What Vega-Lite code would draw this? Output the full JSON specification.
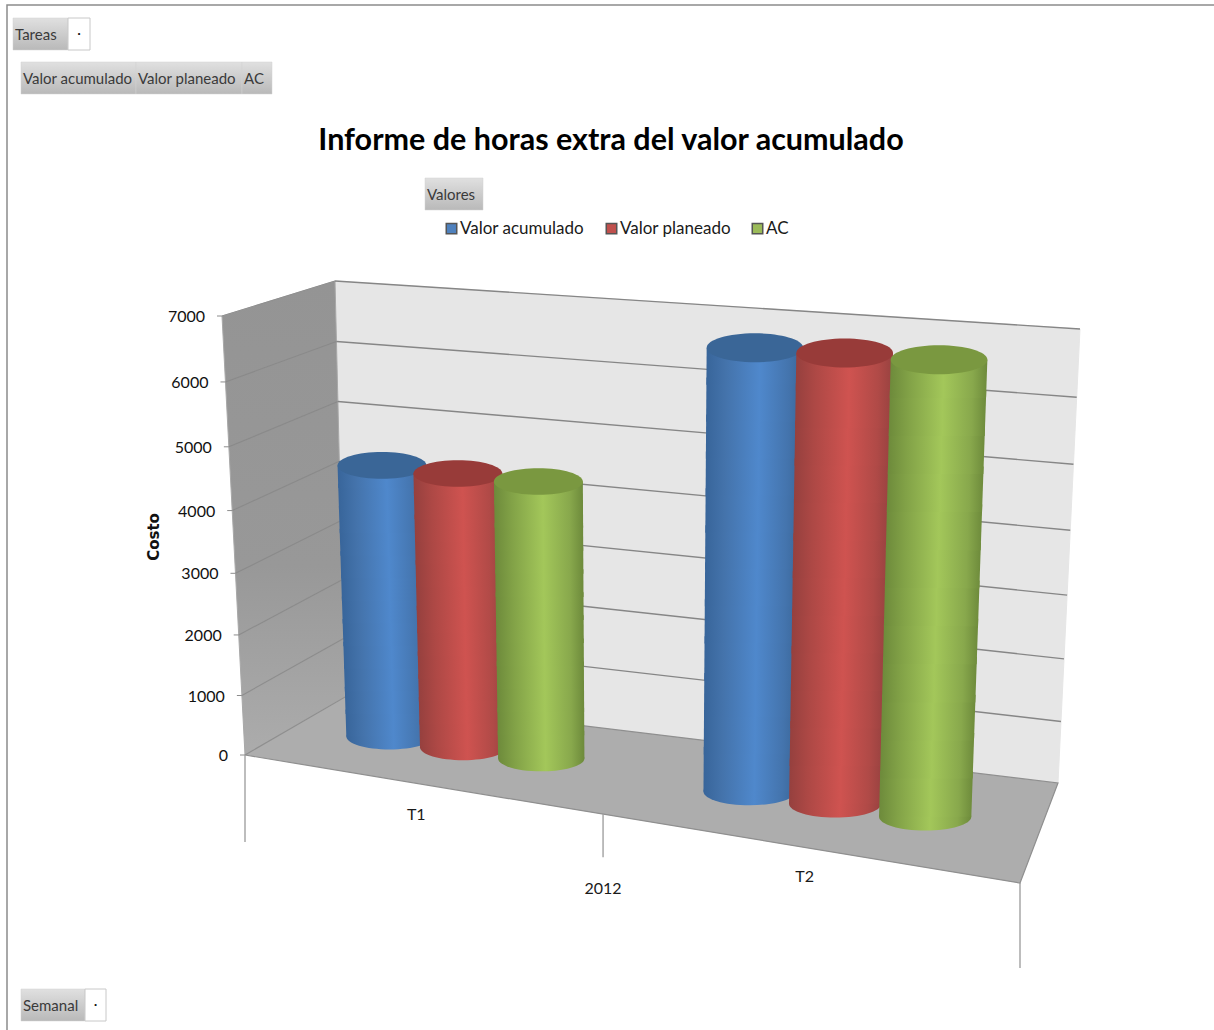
{
  "$schema": "https://vega.github.io/schema/vega-lite/v6.json",
  "width": 1214,
  "height": 1030,
  "padding": 0,
  "autosize": {"type": "none"},
  "background": "white",
  "config": {"view": {"stroke": null}},
  "title": {
    "text": "Informe de horas extra del valor acumulado",
    "anchor": "middle",
    "frame": "group",
    "offset": -156,
    "dx": 4,
    "font": "Lato",
    "fontSize": 30.5,
    "fontWeight": "bold",
    "color": "#000000"
  },
  "datasets": {
    "cilindros": [
      {"periodo": "T1", "serie": "Valor acumulado", "valor": 4470},
      {"periodo": "T1", "serie": "Valor planeado", "valor": 4470},
      {"periodo": "T1", "serie": "AC", "valor": 4480},
      {"periodo": "T2", "serie": "Valor acumulado", "valor": 6880},
      {"periodo": "T2", "serie": "Valor planeado", "valor": 6920},
      {"periodo": "T2", "serie": "AC", "valor": 6940}
    ],
    "caja": [
      {"plano": "fondo", "n": 1, "esquina": "fondo-izq-bajo"},
      {"plano": "fondo", "n": 2, "esquina": "fondo-izq-alto"},
      {"plano": "fondo", "n": 3, "esquina": "fondo-der-alto"},
      {"plano": "fondo", "n": 4, "esquina": "fondo-der-bajo"},
      {"plano": "fondo", "n": 5, "esquina": "fondo-izq-bajo"},
      {"plano": "lateral", "n": 1, "esquina": "frente-izq-bajo"},
      {"plano": "lateral", "n": 2, "esquina": "frente-izq-alto"},
      {"plano": "lateral", "n": 3, "esquina": "fondo-izq-alto"},
      {"plano": "lateral", "n": 4, "esquina": "fondo-izq-bajo"},
      {"plano": "lateral", "n": 5, "esquina": "frente-izq-bajo"},
      {"plano": "suelo", "n": 1, "esquina": "frente-izq-bajo"},
      {"plano": "suelo", "n": 2, "esquina": "fondo-izq-bajo"},
      {"plano": "suelo", "n": 3, "esquina": "fondo-der-bajo"},
      {"plano": "suelo", "n": 4, "esquina": "frente-der-bajo"},
      {"plano": "suelo", "n": 5, "esquina": "frente-izq-bajo"}
    ],
    "marcas_valor": [
      {"valor": 0}, {"valor": 1000}, {"valor": 2000}, {"valor": 3000},
      {"valor": 4000}, {"valor": 5000}, {"valor": 6000}, {"valor": 7000}
    ],
    "categorias": [
      {"etiqueta": "T1"}, {"etiqueta": "2012"}, {"etiqueta": "T2"}
    ],
    "separadores": [
      {"separador": "inicio"}, {"separador": "medio"}, {"separador": "fin"}
    ],
    "botones": [
      {"pieza": "Tareas", "texto": "Tareas"},
      {"pieza": "Valor acumulado", "texto": "Valor acumulado"},
      {"pieza": "Valor planeado", "texto": "Valor planeado"},
      {"pieza": "AC", "texto": "AC"},
      {"pieza": "Valores", "texto": "Valores"},
      {"pieza": "Semanal", "texto": "Semanal"}
    ],
    "listas": [
      {"pieza": "lista Tareas", "texto": "·"},
      {"pieza": "lista Semanal", "texto": "·"}
    ]
  },
  "encoding": {
    "x": {"field": "px", "type": "quantitative", "axis": null, "scale": {"domain": [0, 1214], "range": [0, 1214], "nice": false, "zero": false}},
    "y": {"field": "py", "type": "quantitative", "axis": null, "scale": {"domain": [0, 1030], "range": [0, 1030], "nice": false, "zero": false}}
  },
  "layer": [
    {
      "data": {"name": "caja"},
      "transform": [
        {"calculate": "indexof(datum.esquina,'der')>=0?1:0", "as": "u"},
        {"calculate": "indexof(datum.esquina,'fondo')>=0?1:0", "as": "d"},
        {"calculate": "indexof(datum.esquina,'alto')>=0?1:0", "as": "t"},
        {"calculate": "(1-datum.d)*((1-datum.u)*(245-23*datum.t)+datum.u*(1020+17*datum.t))+datum.d*((1-datum.u)*(345-10*datum.t)+datum.u*(1058+22*datum.t))", "as": "px"},
        {"calculate": "(1-datum.d)*((1-datum.u)*(755-439*datum.t)+datum.u*(883-480*datum.t))+datum.d*((1-datum.u)*(697-416*datum.t)+datum.u*(783-454*datum.t))", "as": "py"}
      ],
      "layer": [
        {
          "transform": [{"filter": "datum.plano==='fondo'"}],
          "mark": {"type": "line", "fill": "#e6e6e6", "stroke": "#e6e6e6", "strokeWidth": 1},
          "encoding": {"order": {"field": "n", "type": "quantitative"}}
        },
        {
          "transform": [{"filter": "datum.plano==='lateral'"}],
          "mark": {"type": "line", "stroke": "#a8a8a8", "strokeWidth": 1, "fill": {"gradient": "linear", "x1": 0, "y1": 0, "x2": 0, "y2": 1, "stops": [{"offset": 0, "color": "#949494"}, {"offset": 0.6, "color": "#989898"}, {"offset": 1, "color": "#acacac"}]}},
          "encoding": {"order": {"field": "n", "type": "quantitative"}}
        }
      ]
    },
    {
      "data": {"name": "marcas_valor"},
      "transform": [
        {"calculate": "datum.valor/7000", "as": "t"},
        {"calculate": "datum.t+0.02*datum.t*(datum.t-1)", "as": "t_izq"},
        {"calculate": "datum.t+0.06*datum.t*(datum.t-1)", "as": "t_der"},
        {"calculate": "345-10*datum.t_izq", "as": "fondo_x"},
        {"calculate": "697-416*datum.t_izq", "as": "fondo_y"},
        {"calculate": "245-23*datum.t_der", "as": "frente_x"},
        {"calculate": "755-439*datum.t_der", "as": "frente_y"}
      ],
      "layer": [
        {
          "transform": [
            {"filter": "datum.valor>0"},
            {"calculate": "datum.fondo_x", "as": "px"},
            {"calculate": "datum.fondo_y", "as": "py"},
            {"calculate": "1058+22*datum.t_der", "as": "px2"},
            {"calculate": "783-454*datum.t_der", "as": "py2"}
          ],
          "mark": {"type": "rule", "stroke": "#868686", "strokeWidth": 1.4},
          "encoding": {"x2": {"field": "px2"}, "y2": {"field": "py2"}}
        },
        {
          "transform": [
            {"filter": "datum.valor>0"},
            {"calculate": "datum.frente_x", "as": "px"},
            {"calculate": "datum.frente_y", "as": "py"},
            {"calculate": "datum.fondo_x", "as": "px2"},
            {"calculate": "datum.fondo_y", "as": "py2"}
          ],
          "mark": {"type": "rule", "stroke": "#858585", "strokeWidth": 1.1, "opacity": 0.75},
          "encoding": {"x2": {"field": "px2"}, "y2": {"field": "py2"}}
        },
        {
          "transform": [
            {"calculate": "datum.frente_x-5", "as": "px"},
            {"calculate": "datum.frente_y", "as": "py"},
            {"calculate": "datum.frente_x", "as": "px2"},
            {"calculate": "datum.frente_y", "as": "py2"}
          ],
          "mark": {"type": "rule", "stroke": "#8c8c8c", "strokeWidth": 1},
          "encoding": {"x2": {"field": "px2"}, "y2": {"field": "py2"}}
        },
        {
          "transform": [
            {"calculate": "datum.frente_x-17", "as": "px"},
            {"calculate": "datum.frente_y+1", "as": "py"}
          ],
          "mark": {"type": "text", "align": "right", "baseline": "middle", "font": "Lato", "fontSize": 16, "color": "#111111"},
          "encoding": {"text": {"field": "valor", "type": "nominal"}}
        }
      ]
    },
    {
      "data": {"name": "caja"},
      "transform": [
        {"filter": "datum.plano==='suelo'"},
        {"calculate": "indexof(datum.esquina,'der')>=0?1:0", "as": "u"},
        {"calculate": "indexof(datum.esquina,'fondo')>=0?1:0", "as": "d"},
        {"calculate": "(1-datum.d)*((1-datum.u)*245+datum.u*1020)+datum.d*((1-datum.u)*345+datum.u*1058)", "as": "px"},
        {"calculate": "(1-datum.d)*((1-datum.u)*755+datum.u*883)+datum.d*((1-datum.u)*697+datum.u*783)", "as": "py"}
      ],
      "mark": {"type": "line", "fill": "#adadad", "stroke": "#8f8f8f", "strokeWidth": 1.2},
      "encoding": {"order": {"field": "n", "type": "quantitative"}}
    },
    {
      "data": {"name": "separadores"},
      "transform": [
        {"calculate": "({inicio:0,medio:0.462,fin:1})[datum.separador]", "as": "u"},
        {"calculate": "({inicio:87,medio:43,fin:85})[datum.separador]", "as": "largo"},
        {"calculate": "245+775*datum.u", "as": "px"},
        {"calculate": "755+128*datum.u", "as": "py"},
        {"calculate": "datum.py+datum.largo", "as": "py2"}
      ],
      "mark": {"type": "rule", "stroke": "#9a9a9a", "strokeWidth": 1.3},
      "encoding": {"y2": {"field": "py2"}}
    },
    {
      "data": {"name": "categorias"},
      "transform": [
        {"calculate": "({T1:0.221,'2012':0.462,T2:0.722})[datum.etiqueta]", "as": "u"},
        {"calculate": "({T1:32,'2012':75,T2:30})[datum.etiqueta]", "as": "caida"},
        {"calculate": "245+775*datum.u", "as": "px"},
        {"calculate": "755+128*datum.u+datum.caida", "as": "py"}
      ],
      "mark": {"type": "text", "align": "center", "baseline": "middle", "font": "Lato", "fontSize": 16, "color": "#1a1a1a"},
      "encoding": {"text": {"field": "etiqueta", "type": "nominal"}}
    },
    {
      "data": {"name": "cilindros"},
      "transform": [
        {"calculate": "({'T1|Valor acumulado':0.127,'T1|Valor planeado':0.226,'T1|AC':0.331,'T2|Valor acumulado':0.611,'T2|Valor planeado':0.726,'T2|AC':0.847})[datum.periodo+'|'+datum.serie]", "as": "u"},
        {"calculate": "({T1:0.058,T2:0.062})[datum.periodo]", "as": "r"},
        {"calculate": "datum.periodo==='T1'?-3:0", "as": "ajuste"},
        {"calculate": "datum.valor/7000", "as": "v"},
        {"calculate": "datum.v+0.05*datum.v*(datum.v-1)", "as": "t"},
        {"calculate": "295+744*datum.u+datum.t*(-16.5+36*datum.u)", "as": "px"},
        {"calculate": "726+datum.ajuste+107*datum.u-datum.t*(427.5+39.5*datum.u)", "as": "py"},
        {"calculate": "295+744*datum.u", "as": "base_x"},
        {"calculate": "726+datum.ajuste+107*datum.u", "as": "base_y"},
        {"calculate": "pow(2*datum.r*(744+36*datum.t),2)", "as": "area_tapa"},
        {"calculate": "pow(2*datum.r*744,2)", "as": "area_base"}
      ],
      "layer": [
        {
          "mark": {"type": "point", "filled": true, "opacity": 0, "size": 4},
          "encoding": {
            "color": {
              "field": "serie",
              "type": "nominal",
              "sort": null,
              "scale": {"domain": ["Valor acumulado", "Valor planeado", "AC"], "range": ["#4f81bd", "#c0504d", "#9bbb59"]},
              "legend": {
                "orient": "none",
                "legendX": 443,
                "legendY": 220,
                "direction": "horizontal",
                "title": null,
                "symbolType": "square",
                "symbolSize": 110,
                "symbolOpacity": 1,
                "symbolStrokeColor": "#555555",
                "labelFont": "Lato",
                "labelFontSize": 17,
                "labelColor": "#1a1a1a",
                "labelOpacity": 1,
                "labelOffset": 0,
                "columnPadding": 18
              }
            }
          }
        },
        {
          "transform": [{"filter": "datum.serie==='Valor acumulado'"}],
          "layer": [
            {
              "transform": [{"calculate": "datum.base_x", "as": "px"}, {"calculate": "datum.base_y", "as": "py"}],
              "mark": {"type": "point", "filled": true, "opacity": 1, "shape": "M-1,0A1,0.3,0,1,1,1,0A1,0.3,0,1,1,-1,0Z", "fill": {"gradient": "linear", "x1": 0, "y1": 0, "x2": 1, "y2": 0, "stops": [{"offset": 0, "color": "#38659a"}, {"offset": 0.2, "color": "#4473ab"}, {"offset": 0.55, "color": "#4f88cc"}, {"offset": 0.85, "color": "#4474ad"}, {"offset": 1, "color": "#3a6698"}]}},
              "encoding": {"size": {"field": "area_base", "type": "quantitative", "legend": null, "scale": {"domain": [0, 20000], "range": [0, 20000]}}}
            },
            {
              "transform": [
                {"calculate": "[0,1,2,3,4,5,6,7,8,9,10,11]", "as": "franja"},
                {"flatten": ["franja"]},
                {"calculate": "[datum.franja/12,min(1,(datum.franja+1.2)/12)]", "as": "f"},
                {"flatten": ["f"]},
                {"calculate": "datum.t*datum.f", "as": "tramo"},
                {"calculate": "295+744*(datum.u-datum.r)+datum.tramo*(-16.5+36*(datum.u-datum.r))", "as": "px"},
                {"calculate": "295+744*(datum.u+datum.r)+datum.tramo*(-16.5+36*(datum.u+datum.r))", "as": "px2"},
                {"calculate": "726+datum.ajuste+107*datum.u-datum.tramo*(427.5+39.5*datum.u)", "as": "py"},
                {"calculate": "datum.periodo+'-'+datum.franja", "as": "rodaja"}
              ],
              "mark": {"type": "area", "orient": "horizontal", "fill": {"gradient": "linear", "x1": 0, "y1": 0, "x2": 1, "y2": 0, "stops": [{"offset": 0, "color": "#38659a"}, {"offset": 0.2, "color": "#4473ab"}, {"offset": 0.55, "color": "#4f88cc"}, {"offset": 0.85, "color": "#4474ad"}, {"offset": 1, "color": "#3a6698"}]}},
              "encoding": {"x2": {"field": "px2"}, "detail": {"field": "rodaja"}}
            },
            {
              "mark": {"type": "point", "filled": true, "opacity": 1, "shape": "M-1,0A1,0.3,0,1,1,1,0A1,0.3,0,1,1,-1,0Z", "fill": "#3a6697"},
              "encoding": {"size": {"field": "area_tapa", "type": "quantitative", "legend": null, "scale": {"domain": [0, 20000], "range": [0, 20000]}}}
            }
          ]
        },
        {
          "transform": [{"filter": "datum.serie==='Valor planeado'"}],
          "layer": [
            {
              "transform": [{"calculate": "datum.base_x", "as": "px"}, {"calculate": "datum.base_y", "as": "py"}],
              "mark": {"type": "point", "filled": true, "opacity": 1, "shape": "M-1,0A1,0.3,0,1,1,1,0A1,0.3,0,1,1,-1,0Z", "fill": {"gradient": "linear", "x1": 0, "y1": 0, "x2": 1, "y2": 0, "stops": [{"offset": 0, "color": "#95403e"}, {"offset": 0.2, "color": "#ad4845"}, {"offset": 0.55, "color": "#cf5350"}, {"offset": 0.85, "color": "#b04a47"}, {"offset": 1, "color": "#984240"}]}},
              "encoding": {"size": {"field": "area_base", "type": "quantitative", "legend": null, "scale": {"domain": [0, 20000], "range": [0, 20000]}}}
            },
            {
              "transform": [
                {"calculate": "[0,1,2,3,4,5,6,7,8,9,10,11]", "as": "franja"},
                {"flatten": ["franja"]},
                {"calculate": "[datum.franja/12,min(1,(datum.franja+1.2)/12)]", "as": "f"},
                {"flatten": ["f"]},
                {"calculate": "datum.t*datum.f", "as": "tramo"},
                {"calculate": "295+744*(datum.u-datum.r)+datum.tramo*(-16.5+36*(datum.u-datum.r))", "as": "px"},
                {"calculate": "295+744*(datum.u+datum.r)+datum.tramo*(-16.5+36*(datum.u+datum.r))", "as": "px2"},
                {"calculate": "726+datum.ajuste+107*datum.u-datum.tramo*(427.5+39.5*datum.u)", "as": "py"},
                {"calculate": "datum.periodo+'-'+datum.franja", "as": "rodaja"}
              ],
              "mark": {"type": "area", "orient": "horizontal", "fill": {"gradient": "linear", "x1": 0, "y1": 0, "x2": 1, "y2": 0, "stops": [{"offset": 0, "color": "#95403e"}, {"offset": 0.2, "color": "#ad4845"}, {"offset": 0.55, "color": "#cf5350"}, {"offset": 0.85, "color": "#b04a47"}, {"offset": 1, "color": "#984240"}]}},
              "encoding": {"x2": {"field": "px2"}, "detail": {"field": "rodaja"}}
            },
            {
              "mark": {"type": "point", "filled": true, "opacity": 1, "shape": "M-1,0A1,0.3,0,1,1,1,0A1,0.3,0,1,1,-1,0Z", "fill": "#983b39"},
              "encoding": {"size": {"field": "area_tapa", "type": "quantitative", "legend": null, "scale": {"domain": [0, 20000], "range": [0, 20000]}}}
            }
          ]
        },
        {
          "transform": [{"filter": "datum.serie==='AC'"}],
          "layer": [
            {
              "transform": [{"calculate": "datum.base_x", "as": "px"}, {"calculate": "datum.base_y", "as": "py"}],
              "mark": {"type": "point", "filled": true, "opacity": 1, "shape": "M-1,0A1,0.3,0,1,1,1,0A1,0.3,0,1,1,-1,0Z", "fill": {"gradient": "linear", "x1": 0, "y1": 0, "x2": 1, "y2": 0, "stops": [{"offset": 0, "color": "#6d8a3b"}, {"offset": 0.2, "color": "#82a247"}, {"offset": 0.55, "color": "#a3c75a"}, {"offset": 0.85, "color": "#88a84c"}, {"offset": 1, "color": "#6d8a3b"}]}},
              "encoding": {"size": {"field": "area_base", "type": "quantitative", "legend": null, "scale": {"domain": [0, 20000], "range": [0, 20000]}}}
            },
            {
              "transform": [
                {"calculate": "[0,1,2,3,4,5,6,7,8,9,10,11]", "as": "franja"},
                {"flatten": ["franja"]},
                {"calculate": "[datum.franja/12,min(1,(datum.franja+1.2)/12)]", "as": "f"},
                {"flatten": ["f"]},
                {"calculate": "datum.t*datum.f", "as": "tramo"},
                {"calculate": "295+744*(datum.u-datum.r)+datum.tramo*(-16.5+36*(datum.u-datum.r))", "as": "px"},
                {"calculate": "295+744*(datum.u+datum.r)+datum.tramo*(-16.5+36*(datum.u+datum.r))", "as": "px2"},
                {"calculate": "726+datum.ajuste+107*datum.u-datum.tramo*(427.5+39.5*datum.u)", "as": "py"},
                {"calculate": "datum.periodo+'-'+datum.franja", "as": "rodaja"}
              ],
              "mark": {"type": "area", "orient": "horizontal", "fill": {"gradient": "linear", "x1": 0, "y1": 0, "x2": 1, "y2": 0, "stops": [{"offset": 0, "color": "#6d8a3b"}, {"offset": 0.2, "color": "#82a247"}, {"offset": 0.55, "color": "#a3c75a"}, {"offset": 0.85, "color": "#88a84c"}, {"offset": 1, "color": "#6d8a3b"}]}},
              "encoding": {"x2": {"field": "px2"}, "detail": {"field": "rodaja"}}
            },
            {
              "mark": {"type": "point", "filled": true, "opacity": 1, "shape": "M-1,0A1,0.3,0,1,1,1,0A1,0.3,0,1,1,-1,0Z", "fill": "#7a9840"},
              "encoding": {"size": {"field": "area_tapa", "type": "quantitative", "legend": null, "scale": {"domain": [0, 20000], "range": [0, 20000]}}}
            }
          ]
        }
      ]
    },
    {
      "data": {"values": [{"eje": "Costo"}]},
      "transform": [
        {"calculate": "154", "as": "px"},
        {"calculate": "537", "as": "py"}
      ],
      "mark": {"type": "text", "angle": 270, "align": "center", "baseline": "middle", "font": "DejaVu Sans", "fontWeight": "bold", "fontSize": 15, "color": "#111111"},
      "encoding": {"text": {"field": "eje", "type": "nominal"}}
    },
    {
      "data": {"values": [{"pieza": "marco"}]},
      "transform": [
        {"calculate": "7", "as": "px"},
        {"calculate": "1260", "as": "px2"},
        {"calculate": "5", "as": "py"},
        {"calculate": "1060", "as": "py2"}
      ],
      "mark": {"type": "rect", "fill": null, "stroke": "#8c8c8c", "strokeWidth": 1.5},
      "encoding": {"x2": {"field": "px2"}, "y2": {"field": "py2"}}
    },
    {
      "data": {"name": "botones"},
      "transform": [
        {"calculate": "({'Tareas':13,'Valor acumulado':21,'Valor planeado':136,'AC':242,'Valores':425,'Semanal':21})[datum.pieza]", "as": "px"},
        {"calculate": "({'Tareas':68,'Valor acumulado':136,'Valor planeado':242,'AC':272,'Valores':483,'Semanal':85})[datum.pieza]", "as": "px2"},
        {"calculate": "({'Tareas':18,'Valor acumulado':62,'Valor planeado':62,'AC':62,'Valores':178,'Semanal':989})[datum.pieza]", "as": "py"},
        {"calculate": "datum.py+32", "as": "py2"}
      ],
      "layer": [
        {
          "mark": {"type": "rect", "fill": {"gradient": "linear", "x1": 0, "y1": 0, "x2": 0, "y2": 1, "stops": [{"offset": 0, "color": "#e0e0e0"}, {"offset": 1, "color": "#b9b9b9"}]}, "stroke": "#d2d2d2", "strokeWidth": 0.5},
          "encoding": {"x2": {"field": "px2"}, "y2": {"field": "py2"}}
        },
        {
          "transform": [
            {"calculate": "datum.px+2", "as": "px"},
            {"calculate": "datum.py+17", "as": "py"}
          ],
          "mark": {"type": "text", "align": "left", "baseline": "middle", "font": "Lato", "fontSize": 15, "color": "#3a3a3a"},
          "encoding": {"text": {"field": "texto", "type": "nominal"}}
        }
      ]
    },
    {
      "data": {"name": "listas"},
      "transform": [
        {"calculate": "({'lista Tareas':68,'lista Semanal':85})[datum.pieza]", "as": "px"},
        {"calculate": "({'lista Tareas':90,'lista Semanal':106})[datum.pieza]", "as": "px2"},
        {"calculate": "({'lista Tareas':18,'lista Semanal':989})[datum.pieza]", "as": "py"},
        {"calculate": "datum.py+32", "as": "py2"}
      ],
      "layer": [
        {
          "mark": {"type": "rect", "fill": "white", "stroke": "#c8c8c8", "strokeWidth": 1},
          "encoding": {"x2": {"field": "px2"}, "y2": {"field": "py2"}}
        },
        {
          "transform": [
            {"calculate": "(datum.px+datum.px2)/2", "as": "px"},
            {"calculate": "datum.py+16", "as": "py"}
          ],
          "mark": {"type": "text", "align": "center", "baseline": "middle", "font": "Lato", "fontSize": 14, "color": "#111111"},
          "encoding": {"text": {"field": "texto", "type": "nominal"}}
        }
      ]
    }
  ]
}
